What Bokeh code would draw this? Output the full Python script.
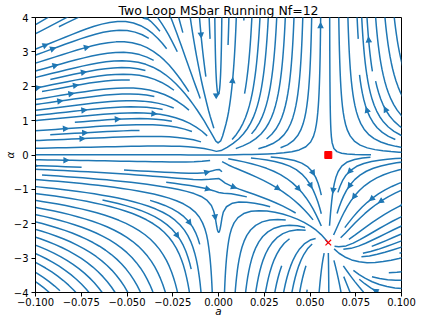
import math
import numpy as np
from bokeh.plotting import figure
from bokeh.models import FixedTicker, Range1d
from bokeh.embed import file_html
from bokeh.resources import INLINE

# ---------------- data / model parameters ----------------
N_FLAVOURS = 12
C_A, C_F, T_F = 3.0, 4.0 / 3.0, 0.5
A_LIMITS = [-0.1, 0.1]          # shown range of a
ALPHA_LIMITS = [-4.0, 4.0]      # shown range of alpha
A_GRID = [-0.2, 0.2]            # range of the vector-field grid
ALPHA_GRID = [-8.0, 8.0]
GRID_POINTS = 100
DENSITY = 3.0
GAUGE_FLOW_FACTOR = 1.0

x_ticks = [-0.1, -0.075, -0.05, -0.025, 0.0, 0.025, 0.05, 0.075, 0.1]
x_tick_labels = ["\u22120.100", "\u22120.075", "\u22120.050", "\u22120.025", "0.000",
                 "0.025", "0.050", "0.075", "0.100"]
y_ticks = [-4, -3, -2, -1, 0, 1, 2, 3, 4]
y_tick_labels = ["\u22124", "\u22123", "\u22122", "\u22121", "0", "1", "2", "3", "4"]
title_text = "Two Loop MSbar Running Nf=12"
x_label = "a"
y_label = "\u03b1"

LINE_COLOR = "#1f77b4"
MARK_COLOR = "#ff0000"

# ---------------- two-loop beta functions ----------------
b0 = 11.0 / 3.0 * C_A - 4.0 / 3.0 * T_F * N_FLAVOURS
b1 = 34.0 / 3.0 * C_A ** 2 - 4.0 * C_F * T_F * N_FLAVOURS - 20.0 / 3.0 * C_A * T_F * N_FLAVOURS


def g1(xi):
    return (13.0 / 6.0 - xi / 2.0) * C_A - 4.0 / 3.0 * T_F * N_FLAVOURS


def g2(xi):
    return (C_A ** 2 * (59.0 / 8.0 - 11.0 / 8.0 * xi - xi ** 2 / 4.0)
            - 4.0 * C_F * T_F * N_FLAVOURS - 5.0 * C_A * T_F * N_FLAVOURS)


def flow(a, xi):
    u = a * a * (b0 + b1 * a)
    gam = a * g1(xi) + a * a * g2(xi)
    v = -GAUGE_FLOW_FACTOR * xi * gam
    return u, v


a_star = -b0 / b1
qa = C_A ** 2 * (-0.25) * a_star
qb = -C_A / 2.0 + a_star * C_A ** 2 * (-11.0 / 8.0)
qc = (13.0 / 6.0 * C_A - 4.0 / 3.0 * T_F * N_FLAVOURS) + a_star * (
    C_A ** 2 * 59.0 / 8.0 - 4.0 * C_F * T_F * N_FLAVOURS - 5.0 * C_A * T_F * N_FLAVOURS)
roots = np.roots([qa, qb, qc])
xi_star = float([r for r in roots.real if ALPHA_LIMITS[0] <= r <= ALPHA_LIMITS[1]][0])

# ---------------- streamline integration (matplotlib-style) ----------------
class _OOB(Exception):
    pass


class _Term(Exception):
    pass


class _Invalid(Exception):
    pass


def compute_streamlines(x, y, u, v, density=1.0, minlength=0.1, maxlength=4.0):
    nx, ny = len(x), len(y)
    dx, dy = x[1] - x[0], y[1] - y[0]
    mnx = mny = int(30 * density)
    mask = np.zeros((mny, mnx))
    x_g2m = (mnx - 1) / (nx - 1)
    y_g2m = (mny - 1) / (ny - 1)
    ug = u / dx
    vg = v / dy
    speed = np.sqrt((ug / (nx - 1)) ** 2 + (vg / (ny - 1)) ** 2)
    st = {"cur": None, "traj": []}

    def within(xi, yi):
        return 0 <= xi <= nx - 1 and 0 <= yi <= ny - 1

    def g2m(xi, yi):
        return round(xi * x_g2m), round(yi * y_g2m)

    def mask_update(xm, ym):
        if st["cur"] != (xm, ym):
            if mask[ym, xm] == 0:
                st["traj"].append((ym, xm))
                mask[ym, xm] = 1
                st["cur"] = (xm, ym)
            else:
                raise _Invalid

    def update(xi, yi):
        if not within(xi, yi):
            raise _Invalid
        xm, ym = g2m(xi, yi)
        mask_update(xm, ym)

    def interp(arr, xi, yi):
        xa = int(xi)
        ya = int(yi)
        xn = xa if xa == nx - 1 else xa + 1
        yn = ya if ya == ny - 1 else ya + 1
        xt = xi - xa
        yt = yi - ya
        a0 = arr[ya, xa] * (1 - xt) + arr[ya, xn] * xt
        a1 = arr[yn, xa] * (1 - xt) + arr[yn, xn] * xt
        return a0 * (1 - yt) + a1 * yt

    def fwd(xi, yi):
        if not within(xi, yi):
            raise _OOB
        ds_dt = interp(speed, xi, yi)
        if ds_dt == 0:
            raise _Term
        dt_ds = 1.0 / ds_dt
        return interp(ug, xi, yi) * dt_ds, interp(vg, xi, yi) * dt_ds

    def bwd(xi, yi):
        a, b = fwd(xi, yi)
        return -a, -b

    def euler_step(traj, f):
        xi, yi = traj[-1]
        cx, cy = f(xi, yi)
        if cx == 0:
            dsx = np.inf
        elif cx < 0:
            dsx = xi / -cx
        else:
            dsx = (nx - 1 - xi) / cx
        if cy == 0:
            dsy = np.inf
        elif cy < 0:
            dsy = yi / -cy
        else:
            dsy = (ny - 1 - yi) / cy
        ds = min(dsx, dsy)
        traj.append((xi + cx * ds, yi + cy * ds))
        return ds, traj

    def rk12(x0, y0, f):
        maxerror = 0.003
        maxds = min(1.0 / mnx, 1.0 / mny, 0.1)
        ds = maxds
        stotal = 0.0
        xi, yi = x0, y0
        traj = []
        while True:
            try:
                if within(xi, yi):
                    traj.append((xi, yi))
                else:
                    raise _OOB
                k1x, k1y = f(xi, yi)
                k2x, k2y = f(xi + ds * k1x, yi + ds * k1y)
            except _OOB:
                if traj:
                    ds2, traj = euler_step(traj, f)
                    stotal += ds2
                break
            except _Term:
                break
            dx1 = ds * k1x
            dy1 = ds * k1y
            dx2 = ds * 0.5 * (k1x + k2x)
            dy2 = ds * 0.5 * (k1y + k2y)
            error = math.hypot((dx2 - dx1) / (nx - 1), (dy2 - dy1) / (ny - 1))
            if error < maxerror:
                xi += dx2
                yi += dy2
                try:
                    update(xi, yi)
                except _Invalid:
                    break
                if stotal + ds > maxlength:
                    break
                stotal += ds
            if error == 0:
                ds = maxds
            else:
                ds = min(maxds, 0.85 * ds * (maxerror / error) ** 0.5)
        return stotal, traj

    def integrate(x0, y0):
        stotal = 0.0
        xy = []
        try:
            st["traj"] = []
            mask_update(*g2m(x0, y0))
        except _Invalid:
            return None
        s, t = rk12(x0, y0, bwd)
        stotal += s
        xy += t[::-1]
        st["cur"] = g2m(x0, y0)
        s, t = rk12(x0, y0, fwd)
        stotal += s
        xy += t[1:]
        if stotal > minlength:
            return np.array(xy)
        for c in st["traj"]:
            mask[c] = 0
        return None

    def starting_points():
        xfirst, yfirst = 0, 1
        xlast, ylast = mnx - 1, mny - 1
        xs, ys = 0, 0
        direction = "right"
        for _ in range(mnx * mny):
            yield xs, ys
            if direction == "right":
                xs += 1
                if xs >= xlast:
                    xlast -= 1
                    direction = "up"
            elif direction == "up":
                ys += 1
                if ys >= ylast:
                    ylast -= 1
                    direction = "left"
            elif direction == "left":
                xs -= 1
                if xs <= xfirst:
                    xfirst += 1
                    direction = "down"
            elif direction == "down":
                ys -= 1
                if ys <= yfirst:
                    yfirst += 1
                    direction = "right"

    lines = []
    for xm, ym in starting_points():
        if mask[ym, xm] == 0:
            t = integrate(xm / x_g2m, ym / y_g2m)
            if t is not None:
                tx = t[:, 0] * dx + x[0]
                ty = t[:, 1] * dy + y[0]
                lines.append((tx, ty))
    return lines


a_grid = np.linspace(A_GRID[0], A_GRID[1], GRID_POINTS)
xi_grid = np.linspace(ALPHA_GRID[0], ALPHA_GRID[1], GRID_POINTS)
AA, XX = np.meshgrid(a_grid, xi_grid)
U, V = flow(AA, XX)
stream = compute_streamlines(a_grid, xi_grid, U, V, density=DENSITY)

# ---------------- figure ----------------
W, H = 417, 319
p = figure(width=W, height=H, output_backend="svg", toolbar_location=None,
           x_range=Range1d(*A_LIMITS), y_range=Range1d(*ALPHA_LIMITS),
           min_border_left=30, min_border_right=16, min_border_top=16, min_border_bottom=24)
p.grid.visible = False
p.outline_line_color = "black"
p.outline_line_width = 1
p.background_fill_color = "white"
p.border_fill_color = "white"

p.title.text = title_text
p.title.align = "center"
p.title.text_font = "DejaVu Sans"
p.title.text_font_size = "12.5px"
p.title.text_font_style = "normal"
p.title.text_color = "black"
p.title.standoff = 0
p.title.offset = 0

for ax, ticks, labels in ((p.xaxis[0], x_ticks, x_tick_labels), (p.yaxis[0], y_ticks, y_tick_labels)):
    ax.ticker = FixedTicker(ticks=ticks)
    ax.major_label_overrides = {t: l for t, l in zip(ticks, labels)}
    ax.major_label_text_font = "DejaVu Sans"
    ax.major_label_text_font_size = "10px"
    ax.major_label_text_color = "black"
    ax.major_tick_out = 4
    ax.major_tick_in = 0
    ax.minor_tick_out = 0
    ax.minor_tick_in = 0
    ax.major_tick_line_color = "black"
    ax.axis_line_color = "black"
    ax.axis_label_text_font = "DejaVu Sans"
    ax.axis_label_text_font_style = "italic"
    ax.axis_label_text_font_size = "10.4px"
    ax.axis_label_text_color = "black"
p.xaxis[0].axis_label = x_label
p.xaxis[0].major_label_standoff = 1
p.xaxis[0].axis_label_standoff = -4
p.yaxis[0].axis_label = y_label
p.yaxis[0].major_label_standoff = 3
p.yaxis[0].axis_label_standoff = -5
p.yaxis[0].major_label_orientation = "horizontal"

# streamlines that touch the shown window
xs, ys = [], []
for tx, ty in stream:
    inside = (tx >= A_LIMITS[0] - 0.02) & (tx <= A_LIMITS[1] + 0.02) & \
             (ty >= ALPHA_LIMITS[0] - 0.5) & (ty <= ALPHA_LIMITS[1] + 0.5)
    if inside.any():
        xs.append(tx)
        ys.append(ty)
p.multi_line(xs, ys, line_color=LINE_COLOR, line_width=1.5, line_join="round")

# arrow heads at mid-arclength (data units) of each streamline
FW, FH = 365.0, 276.0
px_x = FW / (A_LIMITS[1] - A_LIMITS[0])
px_y = FH / (ALPHA_LIMITS[1] - ALPHA_LIMITS[0])
HEAD_L, HEAD_W = 4.5, 2.3
axs, ays = [], []
for tx, ty in stream:
    s = np.cumsum(np.hypot(np.diff(tx), np.diff(ty)))
    n = int(np.searchsorted(s, s[-1] / 2.0))
    hx, hy = np.mean(tx[n:n + 2]), np.mean(ty[n:n + 2])
    if not (A_LIMITS[0] <= hx <= A_LIMITS[1] and ALPHA_LIMITS[0] <= hy <= ALPHA_LIMITS[1]):
        continue
    dxs, dys = (hx - tx[n]) * px_x, (hy - ty[n]) * px_y
    norm = math.hypot(dxs, dys)
    if norm == 0:
        continue
    ux, uy = dxs / norm, dys / norm
    tipx, tipy = hx * px_x + ux * 0.5, hy * px_y + uy * 0.5
    bx, by = tipx - ux * HEAD_L, tipy - uy * HEAD_L
    pts = [(tipx, tipy), (bx - uy * HEAD_W, by + ux * HEAD_W), (bx + uy * HEAD_W, by - ux * HEAD_W)]
    axs.append([q[0] / px_x for q in pts])
    ays.append([q[1] / px_y for q in pts])
p.patches(axs, ays, fill_color=LINE_COLOR, line_color=LINE_COLOR, line_width=1.2, line_join="miter")

# fixed points
p.scatter([a_star], [0.0], marker="square", size=7, fill_color=MARK_COLOR, line_color=MARK_COLOR)
p.scatter([a_star], [xi_star], marker="x", size=8, line_color=MARK_COLOR, line_width=1.2)

open("out.html", "w").write(file_html(p, INLINE))
